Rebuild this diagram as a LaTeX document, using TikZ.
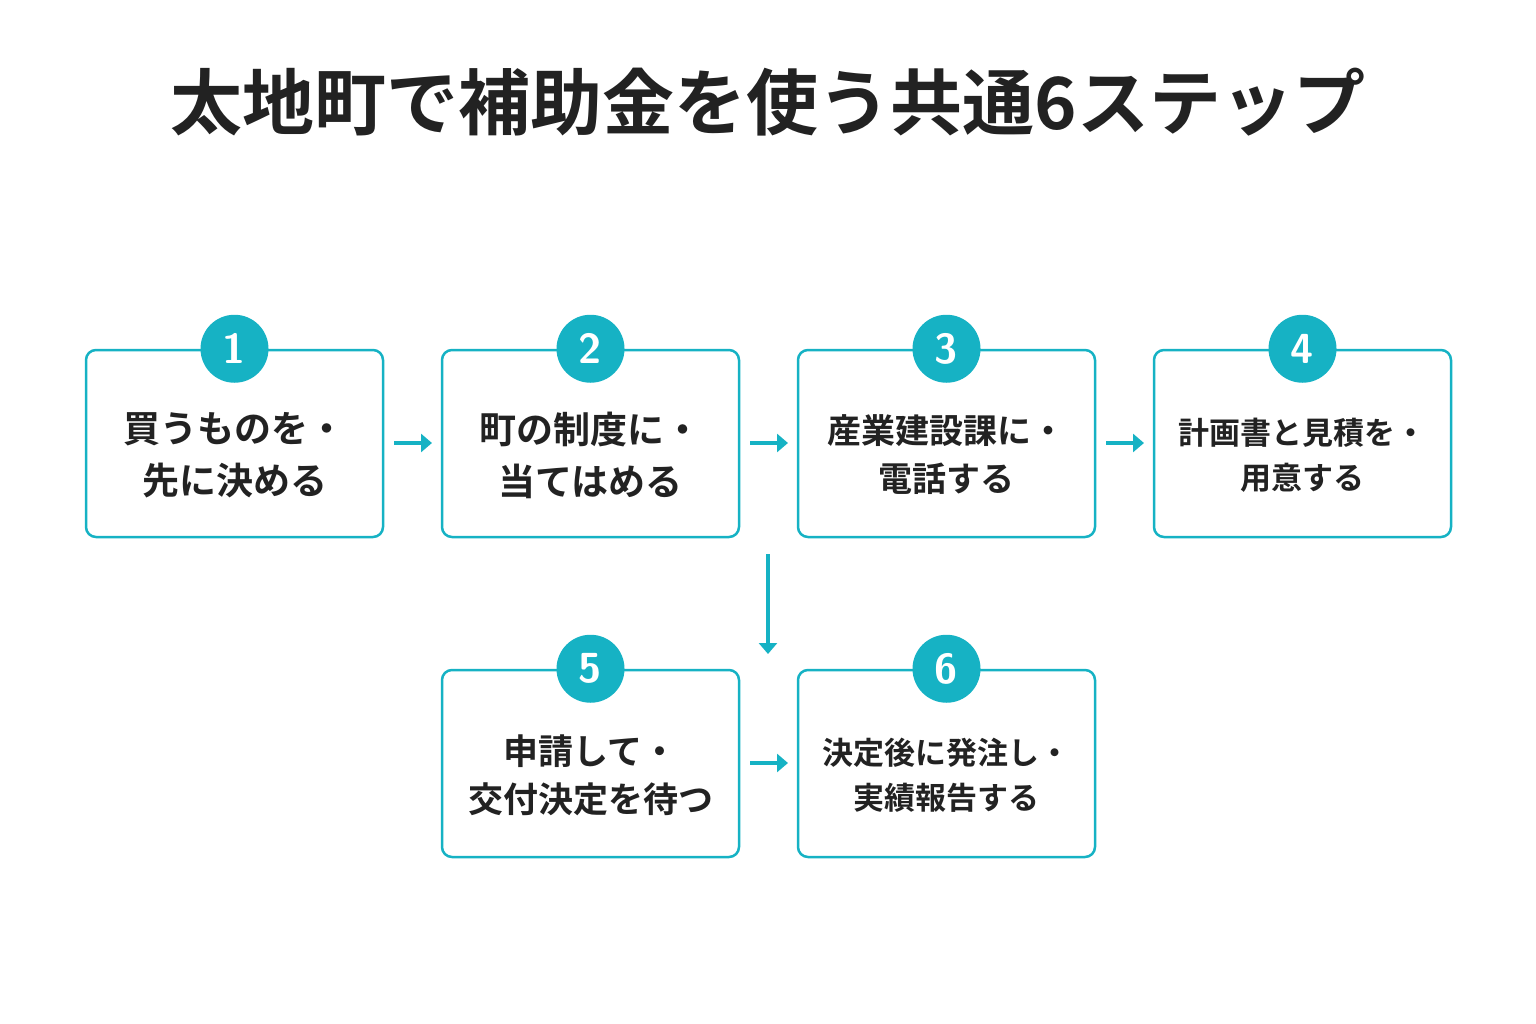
\documentclass[tikz,border=0pt]{standalone}
\usepackage{fontspec}
\newfontfamily\cjk{Noto Sans CJK JP}[BoldFont={* Bold}]
\usetikzlibrary{arrows.meta}
\definecolor{teal}{HTML}{16B2C4}
\definecolor{ink}{HTML}{222222}
\begin{document}
\begin{tikzpicture}[x=1pt,y=-1pt,
 box/.style={draw=teal,line width=2.5pt,rounded corners=10pt,minimum width=297pt,minimum height=187pt},
 lbl/.style={align=center,text=ink,font=\cjk\bfseries\fontsize{37}{52}\selectfont},
 num/.style={circle,fill=teal,minimum size=68pt,inner sep=0pt,text=white,font=\sffamily\bfseries\fontsize{42}{42}\selectfont},
 arr/.style={draw=teal,line width=3.5pt,-{Triangle[length=11pt,width=18pt]}}]
\useasboundingbox (0,0) rectangle (1536,1024);
\node[text=ink,font=\cjk\bfseries\fontsize{72}{72}\selectfont] (title) at (768,102) {太地町で補助金を使う共通6ステップ};
\node[box] (b1) at (234.5,443.5) {};
\node[box] (b2) at (590.5,443.5) {};
\node[box] (b3) at (946.5,443.5) {};
\node[box] (b4) at (1302.5,443.5) {};
\node[box] (b5) at (590.5,763.5) {};
\node[box] (b6) at (946.5,763.5) {};
\node[lbl] (t1) at (234.5,455) {買うものを・\\先に決める};
\node[lbl] (t2) at (590.5,455) {町の制度に・\\当てはめる};
\node[lbl,font=\cjk\bfseries\fontsize{34}{48}\selectfont] (t3) at (946.5,455) {産業建設課に・\\電話する};
\node[lbl,font=\cjk\bfseries\fontsize{31}{45}\selectfont] (t4) at (1302.5,455) {計画書と見積を・\\用意する};
\node[lbl,font=\cjk\bfseries\fontsize{35}{48}\selectfont] (t5) at (590.5,775) {申請して・\\交付決定を待つ};
\node[lbl,font=\cjk\bfseries\fontsize{31}{45}\selectfont] (t6) at (946.5,775) {決定後に発注し・\\実績報告する};
\foreach \b/\n in {b1/1,b2/2,b3/3,b4/4,b5/5,b6/6} \node[num] (n\n) at (\b.north) {\n};
\coordinate (a1s) at (394,443); \coordinate (a1e) at (432,443);
\coordinate (a2s) at (750,443); \coordinate (a2e) at (788,443);
\coordinate (a3s) at (1106,443); \coordinate (a3e) at (1144,443);
\coordinate (vs) at (768,554); \coordinate (ve) at (768,654);
\coordinate (a5s) at (750,763); \coordinate (a5e) at (788,763);
\draw[arr] (a1s) -- (a1e);
\draw[arr] (a2s) -- (a2e);
\draw[arr] (a3s) -- (a3e);
\draw[arr] (vs) -- (ve);
\draw[arr] (a5s) -- (a5e);
\end{tikzpicture}
\end{document}
